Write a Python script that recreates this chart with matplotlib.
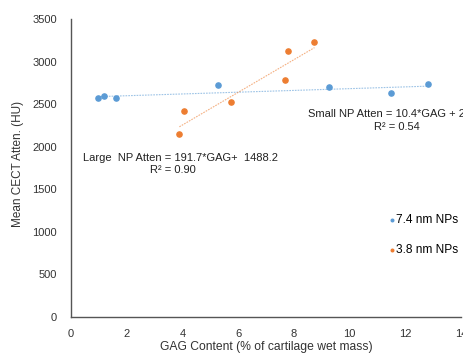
import numpy as np
import matplotlib.pyplot as plt

plt.rcParams['font.family'] = ['Liberation Sans', 'DejaVu Sans']

# 7.4 nm NPs (small)
gag_small = [0.96, 1.19, 1.60, 5.29, 9.27, 11.47, 12.81]
atten_small = [2569, 2599, 2569, 2721, 2701, 2627, 2737]
# 3.8 nm NPs (large)
gag_large = [3.89, 4.06, 5.75, 7.67, 7.80, 8.74]
atten_large = [2146, 2416, 2525, 2780, 3124, 3226]

# trend line coefficients
small_fit = (10.4, 2578)
large_fit = (191.7, 1488.2)

blue = '#5b9bd5'
orange = '#ed7d31'

fig = plt.figure(figsize=(4.64, 3.54), dpi=100)
ax = fig.add_axes([71/464, 37/354, 390/464, 298/354])

ax.scatter(gag_small, atten_small, s=14, color=blue, zorder=3, label='7.4 nm NPs')
ax.scatter(gag_large, atten_large, s=14, color=orange, zorder=3, label='3.8 nm NPs')

xs = np.array([min(gag_small), max(gag_small)])
ax.plot(xs, small_fit[0] * xs + small_fit[1], ls=(0, (1.5, 1)), lw=0.8, color=blue, alpha=0.6)
xl = np.array([min(gag_large), max(gag_large)])
ax.plot(xl, large_fit[0] * xl + large_fit[1], ls=(0, (1.5, 1)), lw=0.8, color=orange, alpha=0.6)

ax.set_xlim(0, 14)
ax.set_ylim(0, 3500)
ax.set_xticks(range(0, 15, 2))
ax.set_yticks(range(0, 3501, 500))
ax.tick_params(length=0, labelsize=8, colors='#333333')
ax.tick_params(axis='y', pad=10)
ax.tick_params(axis='x', pad=8.5)
for s in ['top', 'right']:
    ax.spines[s].set_visible(False)
for s in ['left', 'bottom']:
    ax.spines[s].set_color('#555555')
    ax.spines[s].set_linewidth(1)

ax.set_xlabel('GAG Content (% of cartilage wet mass)', fontsize=8.7, color='#333333', labelpad=1.5)
ax.set_ylabel('Mean CECT Atten. (HU)', fontsize=8.5, color='#333333')
ax.yaxis.set_label_coords(24/464, 1 - 164/354, transform=fig.transFigure)

fig.text(308/464, 1 - 114/354, 'Small NP Atten = 10.4*GAG + 2578', fontsize=8,
         va='center', ha='left', color='#222222')
fig.text(397/464, 1 - 127/354, 'R² = 0.54', fontsize=8, va='center', ha='center', color='#222222')
fig.text(83/464, 1 - 158/354, 'Large  NP Atten = 191.7*GAG+  1488.2', fontsize=8,
         va='center', ha='left', color='#222222')
fig.text(173/464, 1 - 170/354, 'R² = 0.90', fontsize=8, va='center', ha='center', color='#222222')

leg = ax.legend(loc='upper left', bbox_to_anchor=(382/464, 1 - 208/354), bbox_transform=fig.transFigure,
                frameon=False, fontsize=8.6, markerscale=0.5, handletextpad=0.1,
                handlelength=0.6, labelspacing=1.5, borderpad=0)

fig.savefig('out.png', dpi=100)
